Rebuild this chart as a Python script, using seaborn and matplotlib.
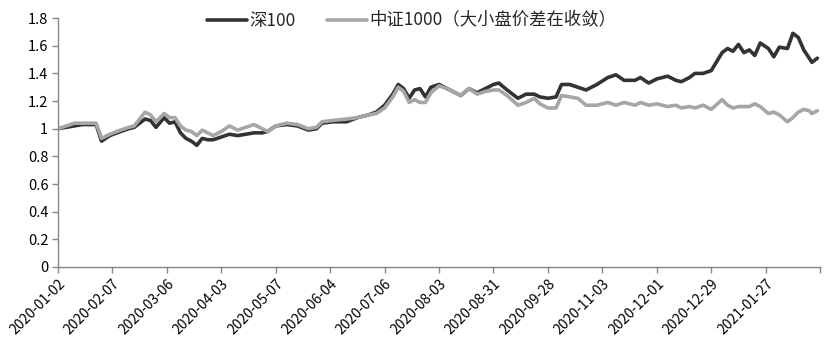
import pandas as pd
import matplotlib
matplotlib.use("Agg")
import matplotlib.pyplot as plt
import seaborn as sns

day_idx = [0, 3, 6, 9, 12, 14, 16, 19, 23, 26, 28, 30, 32, 34, 36, 39, 41, 43, 45, 47,
           49, 51, 53, 55, 57, 60, 63, 66, 69, 72, 75, 77, 80, 84, 88, 92, 95, 97, 101, 106,
           110, 114, 117, 120, 123, 125, 127, 129, 131, 133, 135, 137, 140, 143, 146, 148, 151, 154, 157, 160,
           162, 165, 169, 172, 175, 177, 180, 183, 185, 188, 191, 194, 198, 202, 205, 208, 212, 214, 217, 220,
           224, 227, 229, 232, 234, 237, 240, 244, 246, 248, 250, 252, 254, 256, 258, 261, 263, 265, 268, 270,
           272, 274, 276, 277, 279]

shen100 = [1.00, 1.01, 1.02, 1.03, 1.03, 1.03, 0.91, 0.95, 0.98, 1.00, 1.01, 1.04, 1.07, 1.06, 1.01, 1.08, 1.04, 1.05, 0.97, 0.93,
           0.91, 0.88, 0.93, 0.92, 0.92, 0.94, 0.96, 0.95, 0.96, 0.97, 0.97, 0.98, 1.02, 1.03, 1.02, 0.99, 1.00, 1.04, 1.05, 1.05,
           1.08, 1.10, 1.12, 1.17, 1.25, 1.32, 1.29, 1.22, 1.28, 1.29, 1.23, 1.30, 1.32, 1.29, 1.26, 1.24, 1.29, 1.26, 1.29, 1.32,
           1.33, 1.28, 1.22, 1.25, 1.25, 1.23, 1.22, 1.23, 1.32, 1.32, 1.30, 1.28, 1.32, 1.37, 1.39, 1.35, 1.35, 1.37, 1.33, 1.36,
           1.38, 1.35, 1.34, 1.37, 1.40, 1.40, 1.42, 1.55, 1.58, 1.56, 1.61, 1.55, 1.57, 1.53, 1.62, 1.58, 1.52, 1.59, 1.58, 1.69,
           1.66, 1.57, 1.51, 1.48, 1.51]

zz1000 = [1.00, 1.02, 1.04, 1.04, 1.04, 1.04, 0.93, 0.96, 0.99, 1.01, 1.02, 1.07, 1.12, 1.10, 1.05, 1.11, 1.08, 1.08, 1.02, 0.99,
          0.98, 0.95, 0.99, 0.97, 0.95, 0.98, 1.02, 0.99, 1.01, 1.03, 1.00, 0.98, 1.02, 1.04, 1.03, 1.00, 1.01, 1.05, 1.06, 1.07,
          1.08, 1.10, 1.11, 1.15, 1.23, 1.30, 1.27, 1.19, 1.21, 1.19, 1.19, 1.26, 1.31, 1.29, 1.26, 1.24, 1.29, 1.25, 1.27, 1.28,
          1.28, 1.24, 1.17, 1.19, 1.22, 1.18, 1.15, 1.15, 1.24, 1.23, 1.22, 1.17, 1.17, 1.19, 1.17, 1.19, 1.17, 1.19, 1.17, 1.18,
          1.16, 1.17, 1.15, 1.16, 1.15, 1.17, 1.14, 1.21, 1.17, 1.15, 1.16, 1.16, 1.16, 1.18, 1.16, 1.11, 1.12, 1.10, 1.05, 1.08,
          1.12, 1.14, 1.13, 1.11, 1.13]

series_names = ["深100", "中证1000（大小盘价差在收敛）"]
tick_labels = ["2020-01-02", "2020-02-07", "2020-03-06", "2020-04-03", "2020-05-07",
               "2020-06-04", "2020-07-06", "2020-08-03", "2020-08-31", "2020-09-28",
               "2020-11-03", "2020-12-01", "2020-12-29", "2021-01-27", ""]


def main():
    sns.set_style("white")
    plt.rcParams["font.family"] = ["Noto Sans CJK SC", "DejaVu Sans"]

    df = pd.DataFrame({
        "day": day_idx * 2,
        "value": shen100 + zz1000,
        "series": [series_names[0]] * len(day_idx) + [series_names[1]] * len(day_idx),
    })

    fig = plt.figure(figsize=(8.32, 3.55), dpi=100)
    ax = fig.add_axes([0.0697, 0.248, 0.916, 0.701])

    sns.lineplot(data=df, x="day", y="value", hue="series", hue_order=series_names,
                 palette=["#333333", "#a6a6a6"], linewidth=2.6, ax=ax, legend=False)

    ax.set_xlim(0, 280)
    ax.set_ylim(0, 1.8)
    ax.set_xticks(range(0, 281, 20))
    ax.set_xticklabels(tick_labels, rotation=45, ha="right", rotation_mode="anchor",
                       fontsize=10, color="black")
    yt = [0, 0.2, 0.4, 0.6, 0.8, 1.0, 1.2, 1.4, 1.6, 1.8]
    ax.set_yticks(yt)
    ax.set_yticklabels([f"{v:g}" for v in yt], fontsize=10.5, color="black")
    ax.set_xlabel("")
    ax.set_ylabel("")

    for side in ["top", "right"]:
        ax.spines[side].set_visible(False)
    for side in ["left", "bottom"]:
        ax.spines[side].set_color("#868686")
        ax.spines[side].set_linewidth(1.0)
    ax.tick_params(axis="both", direction="out", length=4, width=1, color="#868686",
                   bottom=True, left=True, pad=3)

    handles = [plt.Line2D([], [], color=c, linewidth=2.6) for c in ["#333333", "#a6a6a6"]]
    fig.legend(handles, series_names, loc="center", bbox_to_anchor=(0.495, 0.942),
               ncol=2, frameon=False, fontsize=12.5, handlelength=2.3, columnspacing=1.8,
               handletextpad=0.15)

    fig.savefig("out.png", dpi=100)
    plt.close(fig)


if __name__ == "__main__":
    main()
